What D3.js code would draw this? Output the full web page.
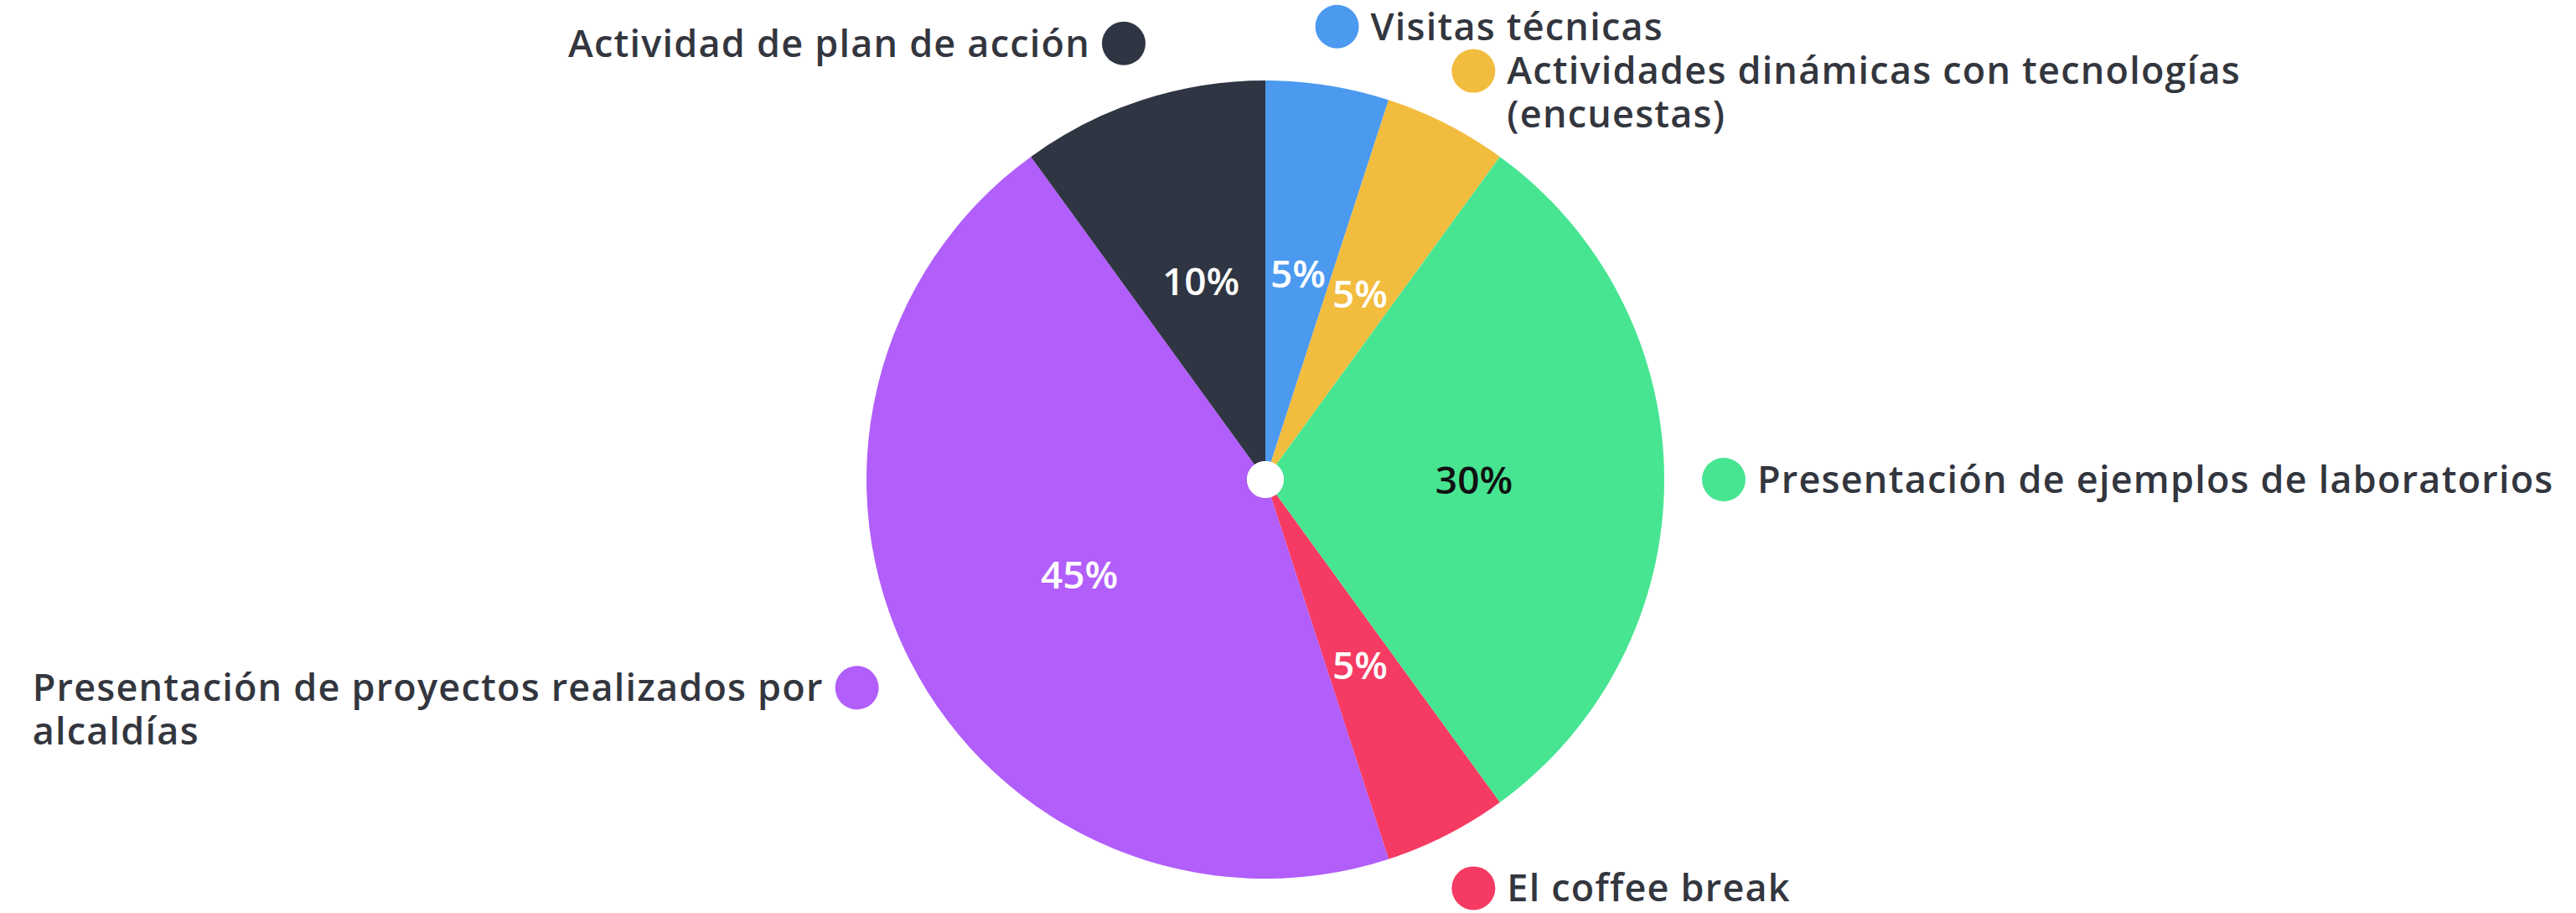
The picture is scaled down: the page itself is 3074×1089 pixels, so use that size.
<!DOCTYPE html>
<html>
<head>
<meta charset="utf-8">
<script src="https://cdn.jsdelivr.net/npm/d3@7"></script>
<style>
  html, body { margin: 0; padding: 0; background: #ffffff; }
  svg { display: block; }
  text { font-family: "Open Sans", "Noto Sans", sans-serif; }
</style>
</head>
<body>
<svg id="chart" width="3074" height="1089"></svg>
<script>
// slices, clockwise from 12 o'clock
var categories = [
  ["Visitas técnicas"],
  ["Actividades dinámicas con tecnologías", "(encuestas)"],
  ["Presentación de ejemplos de laboratorios"],
  ["El coffee break"],
  ["Presentación de proyectos realizados por", "alcaldías"],
  ["Actividad de plan de acción"]
];
var values = [5, 5, 30, 5, 45, 10];
var valueLabels = ["5%", "5%", "30%", "5%", "45%", "10%"];
var colors = ["#4c9af0", "#f2bc3e", "#47e592", "#f53a63", "#b15efb", "#2f3542"];
var labelColors = ["#ffffff", "#ffffff", "#111111", "#ffffff", "#ffffff", "#ffffff"];

var svg = d3.select("#chart");
var cx = 1510, cy = 572,
    outerR = 476, innerR = 22,
    legendR = 547, dotR = 26;

var g = svg.append("g").attr("transform", "translate(" + cx + "," + cy + ")");

var pie = d3.pie().sort(null).value(function(d) { return d; });
var arc = d3.arc().innerRadius(innerR).outerRadius(outerR);
var arcs = pie(values);

// slices
g.selectAll("path.slice")
  .data(arcs)
  .enter().append("path")
  .attr("class", "slice")
  .attr("d", arc)
  .attr("fill", function(d, i) { return colors[i]; });

// center hole
g.append("circle").attr("r", innerR).attr("fill", "#ffffff");

// percent labels
g.selectAll("text.pct")
  .data(arcs)
  .enter().append("text")
  .attr("class", "pct")
  .attr("transform", function(d) { return "translate(" + arc.centroid(d) + ")"; })
  .attr("text-anchor", "middle")
  .attr("dy", "0.36em")
  .attr("font-size", 46)
  .attr("font-weight", 600)
  .attr("fill", function(d, i) { return labelColors[i]; })
  .text(function(d, i) { return valueLabels[i]; });

// outer legend dots + labels
var legendArc = d3.arc().innerRadius(legendR).outerRadius(legendR);
arcs.forEach(function(d, i) {
  var p = legendArc.centroid(d);
  var mid = (d.startAngle + d.endAngle) / 2;
  var right = mid < Math.PI;
  g.append("circle")
    .attr("cx", p[0]).attr("cy", p[1])
    .attr("r", dotR)
    .attr("fill", colors[i]);
  var lines = categories[i];
  var t = g.append("text")
    .attr("font-size", 45)
    .attr("font-weight", 600)
    .attr("letter-spacing", 1.2)
    .attr("fill", "#33363e")
    .attr("text-anchor", right ? "start" : "end");
  lines.forEach(function(line, j) {
    t.append("tspan")
      .attr("x", right ? p[0] + dotR + 14 : p[0] - dotR - 14)
      .attr("y", p[1] + j * 52)
      .attr("dy", "0.35em")
      .text(line);
  });
  // wrapped left labels are left aligned as a block
  if (!right && lines.length > 1) {
    var w = t.node().getBBox().width;
    t.attr("text-anchor", "start");
    t.selectAll("tspan").attr("x", p[0] - dotR - 14 - w);
  }
});
</script>
</body>
</html>
